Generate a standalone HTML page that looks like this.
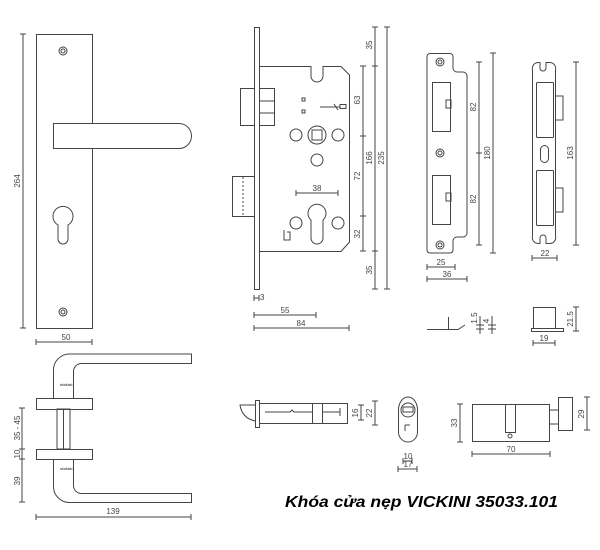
<!DOCTYPE html>
<html><head><meta charset="utf-8"><style>
html,body{margin:0;padding:0;background:#fff;width:600px;height:550px;overflow:hidden}
svg{display:block}
text{font-family:"Liberation Sans",sans-serif;font-size:8px;fill:#444}
</style></head><body>
<svg width="600" height="550" viewBox="0 0 600 550" xmlns="http://www.w3.org/2000/svg">
<g fill="none" stroke="#444" stroke-width="1">
<!-- Front plate -->
<rect x="36.5" y="34.5" width="56" height="294"/>
<circle cx="63" cy="51" r="4"/><circle cx="63" cy="51" r="2"/>
<circle cx="63" cy="312" r="4"/><circle cx="63" cy="312" r="2"/>
<path d="M53.5 123.5 H179 A12.5 12.5 0 0 1 179 148.5 H53.5 Z" fill="#fff"/>
<path d="M58 225 A10 10 0 1 1 68 225 V239 A5 5 0 0 1 58 239 Z"/>
<line x1="23" y1="34" x2="23" y2="328"/><line x1="20" y1="34" x2="26" y2="34"/><line x1="20" y1="328" x2="26" y2="328"/>
<line x1="36" y1="342" x2="92" y2="342"/><line x1="36" y1="339" x2="36" y2="345"/><line x1="92" y1="339" x2="92" y2="345"/>

<!-- Mortise lock -->
<rect x="254.5" y="27.5" width="5" height="262"/>
<path d="M259.5 66.5 H311 V76 A6 6 0 0 0 323 76 V66.5 H341 L349.5 75 V242 L341 251.5 H259.5"/>
<rect x="240.5" y="88.5" width="14" height="37"/>
<path d="M259.5 88.5 H274.5 V125.5 H259.5 M259.5 101 H274.5 M259.5 113 H274.5"/>
<rect x="232.5" y="176.5" width="22" height="40"/>
<line x1="243" y1="177" x2="243" y2="216" stroke-dasharray="2 2"/>
<circle cx="317" cy="135" r="9"/><rect x="312" y="130" width="10" height="10"/>
<circle cx="296" cy="135" r="6"/><circle cx="338" cy="135" r="6"/><circle cx="317" cy="160" r="6"/>
<circle cx="296" cy="223" r="6"/><circle cx="338" cy="223" r="6"/>
<path d="M311 220 A9 9 0 1 1 323 220 V238 A6 6 0 0 1 311 238 Z"/>
<rect x="302" y="98" width="3" height="3"/><rect x="302" y="110" width="3" height="3"/>
<path d="M320 107 H340 M334 104 L338 110"/><rect x="340" y="104.5" width="6" height="4"/>
<path d="M284 230 V240 H290 V232 H287"/>
<line x1="296" y1="193" x2="338" y2="193"/><line x1="296" y1="190" x2="296" y2="196"/><line x1="338" y1="190" x2="338" y2="196"/>
<line x1="363" y1="66" x2="363" y2="251"/>
<path d="M360 66 H366 M360 136 H366 M360 216 H366 M360 251 H366"/>
<line x1="375" y1="27" x2="375" y2="289"/>
<path d="M372 27 H378 M372 66 H378 M372 251 H378 M372 289 H378"/>
<line x1="387" y1="27" x2="387" y2="289"/>
<path d="M384 27 H390 M384 289 H390"/>
<path d="M254 295 V301 M254 298 H259 M259 295 V301"/>
<line x1="254" y1="315" x2="316" y2="315"/><path d="M254 312 V318 M316 312 V318"/>
<line x1="254" y1="328" x2="349" y2="328"/><path d="M254 325 V331 M349 325 V331"/>

<!-- Strike plate -->
<path d="M430 53.5 H450 A3 3 0 0 1 453 56.5 V68 A4 4 0 0 0 457 72 H463 A4 4 0 0 1 467 76 V233 A4 4 0 0 1 463 237 H457 A4 4 0 0 0 453 241 V250 A3 3 0 0 1 450 253 H430 A3 3 0 0 1 427 250 V56.5 A3 3 0 0 1 430 53.5 Z"/>
<circle cx="440" cy="62" r="4"/><circle cx="440" cy="62" r="2"/>
<circle cx="440" cy="153" r="4"/><circle cx="440" cy="153" r="2"/>
<circle cx="440" cy="245" r="4"/><circle cx="440" cy="245" r="2"/>
<rect x="432.5" y="82.5" width="18" height="49"/><rect x="446" y="100" width="5" height="8"/>
<rect x="432.5" y="175.5" width="18" height="49"/><rect x="446" y="193" width="5" height="8"/>
<line x1="479" y1="62" x2="479" y2="245"/><path d="M476 62 H482 M476 153 H482 M476 245 H482"/>
<line x1="493" y1="53" x2="493" y2="253"/><path d="M490 53 H496 M490 253 H496"/>
<line x1="427" y1="267" x2="455" y2="267"/><path d="M427 264 V270 M455 264 V270"/>
<line x1="427" y1="279" x2="467" y2="279"/><path d="M427 276 V282 M467 276 V282"/>

<!-- Box strike -->
<path d="M538 62.5 A6 6 0 0 0 532.5 70 V236 A6 6 0 0 0 538 243.5 H540 V238 A3 3 0 0 1 546 238 V243.5 H549 A6 6 0 0 0 555.5 236 V70 A6 6 0 0 0 549 62.5 H546 V68 A3 3 0 0 1 540 68 V62.5 Z"/>
<rect x="536.5" y="82.5" width="17" height="55" rx="1"/>
<rect x="536.5" y="170.5" width="17" height="55" rx="1"/>
<path d="M555.5 96 H563 V120 H555.5 M555.5 188 H563 V212 H555.5"/>
<rect x="540.5" y="145.5" width="8" height="17" rx="4"/>
<line x1="576" y1="62" x2="576" y2="245"/><path d="M573 62 H579 M573 245 H579"/>
<line x1="532" y1="258" x2="557" y2="258"/><path d="M532 255 V261 M557 255 V261"/>

<!-- small parts -->
<path d="M427 329.5 H458 L465 325 M448.5 317 V329"/>
<path d="M476 325 H484 M476 329 H484 M480 316 V334"/>
<path d="M488 325 H496 M488 329 H496 M492 316 V334"/>
<rect x="533.5" y="307.5" width="22" height="21"/>
<rect x="531.5" y="328.5" width="32" height="3"/>
<line x1="576" y1="307" x2="576" y2="331"/><path d="M573 307 H579 M573 331 H579"/>
<line x1="533" y1="343" x2="555" y2="343"/><path d="M533 340 V346 M555 340 V346"/>

<!-- handle side view -->
<path d="M53.5 398 V370 A16 16 0 0 1 69.5 354 H191.5 V363.5 H82 A8 8 0 0 0 73.5 371 V398"/>
<rect x="36.5" y="398.5" width="56" height="11"/>
<rect x="57" y="409" width="13" height="40"/><line x1="63.5" y1="409" x2="63.5" y2="449"/>
<rect x="36.5" y="449.5" width="56" height="10"/>
<path d="M53.5 459 V486 A16 16 0 0 0 69.5 502.5 H191.5 V493.5 H82 A8 8 0 0 1 73.5 486 V459"/>
<line x1="22" y1="408" x2="22" y2="502"/>
<path d="M19 408 H25 M19 449 H25 M19 459 H25 M19 502 H25"/>
<line x1="36" y1="517" x2="191" y2="517"/><path d="M36 514 V520 M191 514 V520"/>

<!-- latch bolt -->
<rect x="259.5" y="403.5" width="88" height="20"/>
<rect x="255.5" y="400.5" width="4" height="27"/>
<path d="M255 405 H240 Q242 418 255 421"/>
<rect x="312.5" y="403.5" width="10" height="20"/>
<path d="M265 412 H290 L292 410 L294 412 H312 M322 412 H340 M340 408 V416"/>
<line x1="361" y1="405" x2="361" y2="420"/><path d="M358 405 H364 M358 420 H364"/>
<line x1="375" y1="401" x2="375" y2="425"/><path d="M372 401 H378 M372 425 H378"/>

<!-- cylinder end -->
<path d="M398.5 410 A9.5 13 0 0 1 417.5 410 V432 A9.5 10 0 0 1 398.5 432 Z"/>
<circle cx="408" cy="410" r="7"/><rect x="403" y="407" width="10" height="5"/>
<path d="M405 425 H410 M405 425 V431"/>
<line x1="403" y1="461" x2="412" y2="461"/><path d="M403 458 V464 M412 458 V464"/>
<line x1="398" y1="469" x2="417" y2="469"/><path d="M398 466 V472 M417 466 V472"/>

<!-- euro cylinder -->
<rect x="472.5" y="404.5" width="77" height="37"/>
<rect x="505.5" y="404.5" width="10" height="28"/>
<circle cx="510" cy="436" r="2"/>
<path d="M549.5 410 H558 M549.5 424 H558"/>
<rect x="558.5" y="397.5" width="14" height="33"/>
<line x1="460" y1="404" x2="460" y2="442"/><path d="M457 404 H463 M457 442 H463"/>
<line x1="587" y1="397" x2="587" y2="430"/><path d="M584 397 H590 M584 430 H590"/>
<line x1="472" y1="454" x2="550" y2="454"/><path d="M472 451 V457 M550 451 V457"/>
</g>

<g>
<text x="66" y="340" text-anchor="middle">50</text>
<text transform="translate(20,181) rotate(-90)" text-anchor="middle">264</text>
<text x="317" y="191" text-anchor="middle">38</text>
<text transform="translate(360,100) rotate(-90)" text-anchor="middle">63</text>
<text transform="translate(360,176) rotate(-90)" text-anchor="middle">72</text>
<text transform="translate(360,234) rotate(-90)" text-anchor="middle">32</text>
<text transform="translate(372,45) rotate(-90)" text-anchor="middle">35</text>
<text transform="translate(372,158) rotate(-90)" text-anchor="middle">166</text>
<text transform="translate(372,270) rotate(-90)" text-anchor="middle">35</text>
<text transform="translate(384,158) rotate(-90)" text-anchor="middle">235</text>
<text x="260" y="300">3</text>
<text x="285" y="313" text-anchor="middle">55</text>
<text x="301" y="326" text-anchor="middle">84</text>
<text transform="translate(476,107) rotate(-90)" text-anchor="middle">82</text>
<text transform="translate(476,199) rotate(-90)" text-anchor="middle">82</text>
<text transform="translate(490,153) rotate(-90)" text-anchor="middle">180</text>
<text x="441" y="265" text-anchor="middle">25</text>
<text x="447" y="277" text-anchor="middle">36</text>
<text transform="translate(573,153) rotate(-90)" text-anchor="middle">163</text>
<text x="545" y="256" text-anchor="middle">22</text>
<text transform="translate(477,318) rotate(-90)" text-anchor="middle">1.5</text>
<text transform="translate(489,321) rotate(-90)" text-anchor="middle">4</text>
<text transform="translate(573,319) rotate(-90)" text-anchor="middle">21.5</text>
<text x="544" y="341" text-anchor="middle">19</text>
<text transform="translate(20,428) rotate(-90)" text-anchor="middle">35 - 45</text>
<text transform="translate(20,454) rotate(-90)" text-anchor="middle">10</text>
<text transform="translate(20,481) rotate(-90)" text-anchor="middle">39</text>
<text x="113" y="514" text-anchor="middle">139</text>
<text transform="translate(358,413) rotate(-90)" text-anchor="middle">16</text>
<text transform="translate(372,413) rotate(-90)" text-anchor="middle">22</text>
<text x="408" y="459" text-anchor="middle">10</text>
<text x="408" y="467" text-anchor="middle">17</text>
<text transform="translate(457,423) rotate(-90)" text-anchor="middle">33</text>
<text transform="translate(584,414) rotate(-90)" text-anchor="middle">29</text>
<text x="511" y="452" text-anchor="middle">70</text>
<text x="60" y="386" style="font-size:4px;font-weight:bold">vickini</text>
<text x="60" y="470" style="font-size:4px;font-weight:bold">vickini</text>
<text x="285" y="507" textLength="273" lengthAdjust="spacingAndGlyphs" style="font-size:16px;font-weight:bold;font-style:italic;fill:#000">Khóa cửa nẹp VICKINI 35033.101</text>
</g>
</svg>
</body></html>
